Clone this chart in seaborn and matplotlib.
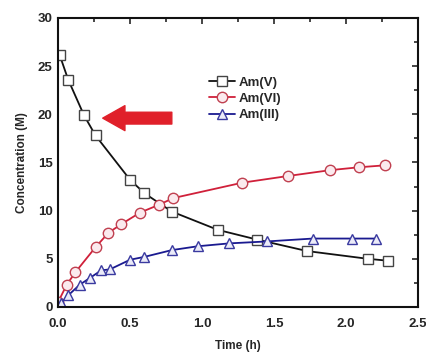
import numpy as np
import pandas as pd
import seaborn as sns
import matplotlib.pyplot as plt
from matplotlib.ticker import MultipleLocator

# valores
t_v = [0.01, 0.07, 0.18, 0.26, 0.50, 0.60, 0.79, 1.11, 1.38, 1.73, 2.15, 2.29]
am_v = [26.2, 23.6, 19.9, 17.8, 13.2, 11.8, 9.9, 8.0, 7.0, 5.8, 5.0, 4.8]

t_vi = [0.0, 0.06, 0.12, 0.26, 0.35, 0.44, 0.57, 0.70, 0.80, 1.28, 1.60, 1.89, 2.09, 2.27]
am_vi = [0.5, 2.3, 3.6, 6.2, 7.7, 8.6, 9.8, 10.6, 11.3, 12.9, 13.6, 14.2, 14.5, 14.7]

t_iii = [0.02, 0.07, 0.15, 0.22, 0.30, 0.36, 0.50, 0.60, 0.79, 0.97, 1.19, 1.45, 1.77, 2.04, 2.21]
am_iii = [0.4, 1.2, 2.3, 3.0, 3.8, 3.9, 4.9, 5.2, 5.9, 6.3, 6.6, 6.8, 7.1, 7.1, 7.1]

series = [
    ("Am(V)", t_v, am_v, "s", "#111111", "#444444", "white"),
    ("Am(VI)", t_vi, am_vi, "o", "#d0203a", "#c04050", "#fbeaee"),
    ("Am(III)", t_iii, am_iii, "^", "#1a1a90", "#3a3aa0", "#ebebf8"),
]

sns.set_style("white")
plt.rcParams['font.family'] = ['Liberation Sans', 'DejaVu Sans']
plt.rcParams['font.weight'] = 'bold'

fig = plt.figure(figsize=(4.27, 3.52), dpi=100)
ax = fig.add_axes([0.136, 0.128, 0.843, 0.821])

for name, t, c, mk, lc, ec, fc in series:
    df = pd.DataFrame({"t": t, "c": c})
    sns.lineplot(data=df, x="t", y="c", ax=ax, color=lc, lw=1.3, marker=mk,
                 markersize=7.5 if mk != "s" else 7, markerfacecolor=fc,
                 markeredgecolor=ec, markeredgewidth=1.0, label=name)

# seta vermelha
ax.annotate('', xy=(0.31, 19.6), xytext=(0.79, 19.6),
            arrowprops=dict(arrowstyle='simple,head_length=1.6,head_width=1.8,tail_width=0.85',
                            color='#e0202a', mutation_scale=10, shrinkA=0, shrinkB=0))

ax.set_xlim(0, 2.5)
ax.set_ylim(0, 30)
ax.xaxis.set_major_locator(MultipleLocator(0.5))
ax.xaxis.set_minor_locator(MultipleLocator(0.25))
ax.yaxis.set_major_locator(MultipleLocator(5))
ax.yaxis.set_minor_locator(MultipleLocator(2.5))
ax.tick_params(which='both', direction='in', top=True, right=True, width=1.2,
               labelsize=9.5)
ax.tick_params(which='major', length=4)
ax.tick_params(which='minor', length=3)
ax.tick_params(axis='x', pad=8)
ax.tick_params(axis='y', pad=4)
ax.set_xticks([0, 0.5, 1.0, 1.5, 2.0, 2.5])
ax.set_xticklabels(["0.0", "0.5", "1.0", "1.5", "2.0", "2.5"])
for s in ax.spines.values():
    s.set_linewidth(1.5)
    s.set_color('#111111')

ax.set_xlabel("Time (h)", fontsize=8.5, fontweight='bold', labelpad=7)
ax.set_ylabel("Concentration (M)", fontsize=8.5, fontweight='bold', labelpad=7)

leg = ax.legend(loc='upper left', bbox_to_anchor=(0.40, 0.82), frameon=False,
                fontsize=9.5, handlelength=2.0, handletextpad=0.3,
                labelspacing=0.3, borderpad=0)

fig.savefig("out.png", dpi=100)
